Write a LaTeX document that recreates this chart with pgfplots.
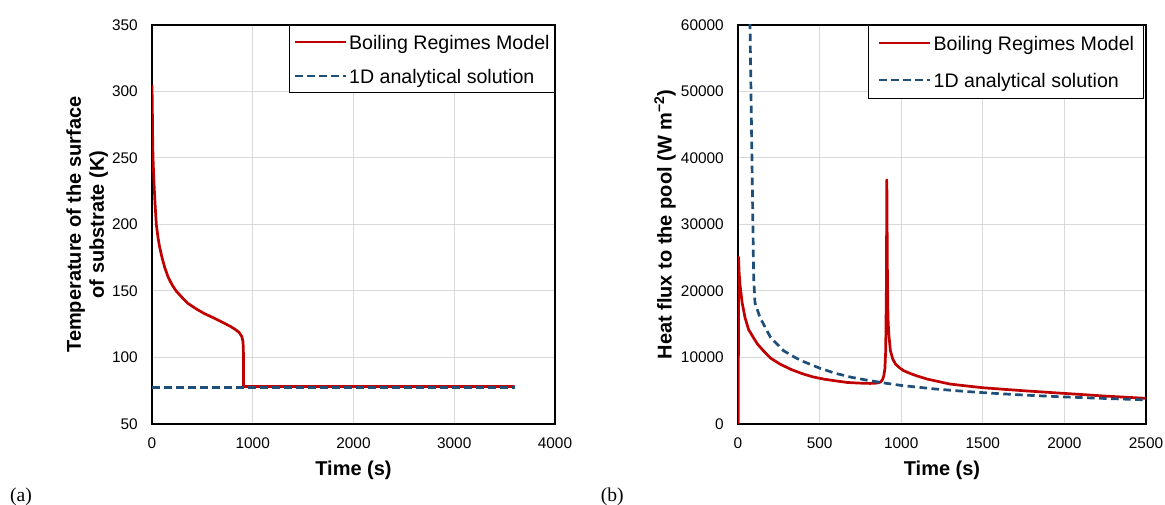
\documentclass[border=0pt]{standalone}
\usepackage{pgfplots}
\pgfplotsset{compat=1.18}
\usepackage{fontspec}
\setmainfont{Liberation Sans}
\newfontfamily\seriffont{Liberation Serif}
\definecolor{brm}{HTML}{C00000}
\definecolor{ana}{HTML}{1F4E79}
\definecolor{gridc}{HTML}{D9D9D9}
\pgfplotsset{
  excel/.style={
    scale only axis,
    axis line style={line width=1.2pt, black},
    grid=major, grid style={gridc, line width=1pt},
    major tick length=0pt, tick style={draw=none},
    /pgf/number format/assume math mode=true,
    /pgf/number format/1000 sep={},
    ticklabel style={font=\fontsize{15.4}{18}\selectfont},
    yticklabel style={inner xsep=0pt, xshift=-14pt},
    xticklabel style={inner ysep=0pt, yshift=-13.7pt},
    label style={font=\fontsize{20}{23}\selectfont\bfseries},
    xlabel style={at={(axis description cs:0.5,0)}, anchor=base, yshift=-52pt},
    legend cell align=left,
    legend image code/.code={\draw[#1, line width=2.2pt] (0pt,0pt) -- (51pt,0pt);},
  },
  brmline/.style={brm, line width=2.7pt, line join=round},
  analine/.style={ana, line width=2.7pt, dash pattern=on 7.5pt off 4.5pt},
}
\begin{document}
\begin{tikzpicture}
\useasboundingbox (0,0) rectangle (1165pt,505pt);
\begin{axis}[excel,
  at={(152pt,81pt)}, anchor=south west,
  width=403pt, height=399pt,
  xmin=0, xmax=4000, ymin=50, ymax=350,
  xtick={0,1000,2000,3000,4000},
  ytick={50,100,150,200,250,300,350},
  xlabel={Time (s)},
  ylabel={Temperature of the surface\\of substrate (K)},
  ylabel style={align=center, at={(axis description cs:-0.1608,0.5)}, anchor=center},
  legend style={at={(1,1)}, anchor=north east, draw=black, line width=0.8pt, fill=white,
    font=\fontsize{19.6}{23}\selectfont, inner xsep=5pt, inner ysep=5.9pt, row sep=12.4pt,
    nodes={inner sep=0pt, text height=18pt, text depth=3.6pt},
    /tikz/every odd column/.append style={column sep=2pt}},
]
\addplot[brmline] coordinates {
(0,305) (3,290) (6,268) (10,250) (20,231) (30,216) (43,200) (60,190) (76,183)
(100,175) (125,168) (160,160.5) (200,154.5) (240,150) (300,145) (355,140.8)
(440,136.5) (520,133) (620,129.5) (717,125.8) (780,123.3) (832,120.8) (865,118.8)
(891,115.8) (903,112) (907,106) (908,95) (909,78.2) (1000,78.2) (2000,78.2) (3600,78.2)
};
\addlegendentry{Boiling Regimes Model}
\addplot[analine] coordinates {(0,77.5) (3600,77.5)};
\addlegendentry{1D analytical solution}
\end{axis}
\begin{axis}[excel,
  at={(738pt,81pt)}, anchor=south west,
  width=408pt, height=399pt,
  xmin=0, xmax=2500, ymin=0, ymax=60000,
  xtick={0,500,1000,1500,2000,2500},
  ytick={0,10000,20000,30000,40000,50000,60000},
  scaled y ticks=false,
  xlabel={Time (s)},
  ylabel={Heat flux to the pool (W m\textsuperscript{−2})},
  ylabel style={at={(axis description cs:-0.179,0.5)}, anchor=center},
  legend style={at={(1,1)}, anchor=north east, xshift=-2pt, draw=black, line width=0.8pt, fill=white,
    font=\fontsize{19.6}{23}\selectfont, inner xsep=9.5pt, inner ysep=6.9pt, row sep=15.7pt,
    nodes={inner sep=0pt, text height=18pt, text depth=3.6pt},
    /tikz/every odd column/.append style={column sep=2.5pt}},
]
\addplot[brmline] coordinates {
(2,0) (3,25100) (7,22800) (12,21000) (25,18300) (43,16000) (65,14200) (94,13000)
(120,12000) (156,11000) (200,9900) (258,9000) (330,8150) (402,7500) (460,7080)
(525,6750) (600,6480) (668,6250) (740,6150) (811,6100) (850,6150) (873,6300)
(885,6650) (893,7200) (900,8300) (905,11000) (909,20000) (912,36700) (915,24000)
(919,16000) (924,13500) (934,11000) (948,9800) (965,9000) (990,8450) (1016,8000)
(1060,7550) (1100,7200) (1160,6750) (1300,6000) (1500,5450) (1750,5000)
(2000,4600) (2250,4200) (2500,3860)
};
\addlegendentry{Boiling Regimes Model}
\addplot[analine] coordinates {
(0,185000) (96,22000) (104,18200) (135,16000) (200,13000) (280,11000) (350,10000)
(400,9400) (500,8400) (600,7600) (700,7000) (800,6550) (900,6150) (1000,5800)
(1200,5280) (1400,4880) (1600,4560) (1800,4290) (2000,4070) (2200,3880) (2500,3630)
};
\addlegendentry{1D analytical solution}
\end{axis}
\node[font=\seriffont\fontsize{19.6}{23}\selectfont, anchor=base west, inner sep=0pt] at (9.9pt,3.5pt) {(a)};
\node[font=\seriffont\fontsize{19.6}{23}\selectfont, anchor=base west, inner sep=0pt] at (600.6pt,3.5pt) {(b)};
\end{tikzpicture}
\end{document}
